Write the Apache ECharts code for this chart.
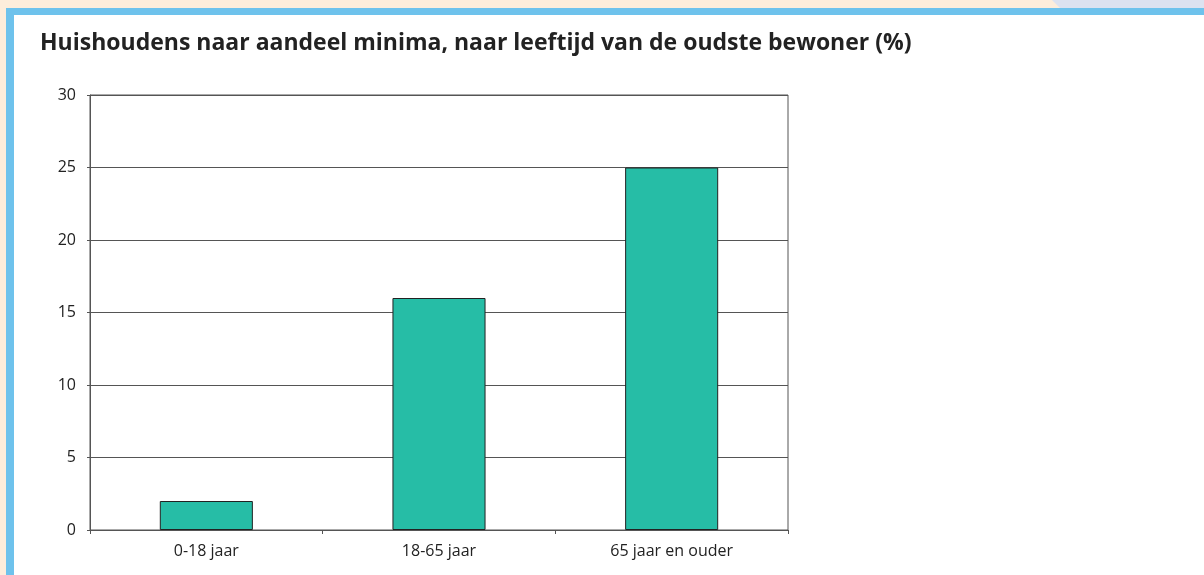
<!DOCTYPE html>
<html>
<head>
<meta charset="utf-8">
<script src="https://cdn.jsdelivr.net/npm/echarts@6/dist/echarts.min.js"></script>
<style>
html,body{margin:0;padding:0;background:#fff;}
#c{width:1204px;height:575px;}
</style>
</head>
<body>
<div id="c"></div>
<script>
const categories = ['0-18 jaar', '18-65 jaar', '65 jaar en ouder'];
const values = [2, 16, 25];
const yTicks = [0, 5, 10, 15, 20, 25, 30];

const chart = echarts.init(document.getElementById('c'));
chart.setOption({
  animation: false,
  backgroundColor: '#ffffff',
  graphic: [
    { type: 'rect', shape: { x: 0, y: 0, width: 1204, height: 8 }, style: { fill: '#fdeddb' }, z: 0 },
    { type: 'polygon', shape: { points: [[1052, 0], [1204, 0], [1204, 8], [1060, 8]] }, style: { fill: '#dce2f0' }, z: 0 },
    { type: 'rect', shape: { x: 0, y: 0, width: 6, height: 575 }, style: { fill: '#fdeddb' }, z: 0 },
    { type: 'rect', shape: { x: 6, y: 8, width: 1198, height: 7 }, style: { fill: '#6ec2ec' }, z: 1 },
    { type: 'rect', shape: { x: 6, y: 8, width: 8, height: 567 }, style: { fill: '#6ec2ec' }, z: 1 },
    { type: 'text', left: 40, top: 32, style: { text: 'Huishoudens naar aandeel minima, naar leeftijd van de oudste bewoner (%)', font: 'bold 23px "Open Sans", "Noto Sans", sans-serif', fill: '#222' }, z: 2 }
  ],
  grid: { left: 90, right: 416, top: 95, bottom: 45, show: true, borderColor: '#555', borderWidth: 1, backgroundColor: 'transparent' },
  xAxis: {
    type: 'category',
    data: categories,
    boundaryGap: true,
    axisLine: { show: true, lineStyle: { color: '#555', width: 1 } },
    axisTick: { show: true, interval: 0, length: 4, lineStyle: { color: '#555' } },
    axisLabel: { color: '#222', fontSize: 16, fontFamily: '"Open Sans", sans-serif', margin: 13, interval: 0 },
    splitLine: { show: false }
  },
  yAxis: {
    type: 'value',
    min: yTicks[0],
    max: yTicks[yTicks.length - 1],
    interval: 5,
    axisLine: { show: true, lineStyle: { color: '#555', width: 1 } },
    axisTick: { show: true, length: 3, lineStyle: { color: '#555' } },
    axisLabel: { color: '#222', fontSize: 16, fontFamily: '"Open Sans", sans-serif', margin: 14 },
    splitLine: { show: true, lineStyle: { color: '#555', width: 1 } }
  },
  series: [{
    type: 'bar',
    data: values,
    barWidth: '40%',
    itemStyle: { color: '#26bda6', borderColor: '#222', borderWidth: 1 }
  }]
});
</script>
</body>
</html>
